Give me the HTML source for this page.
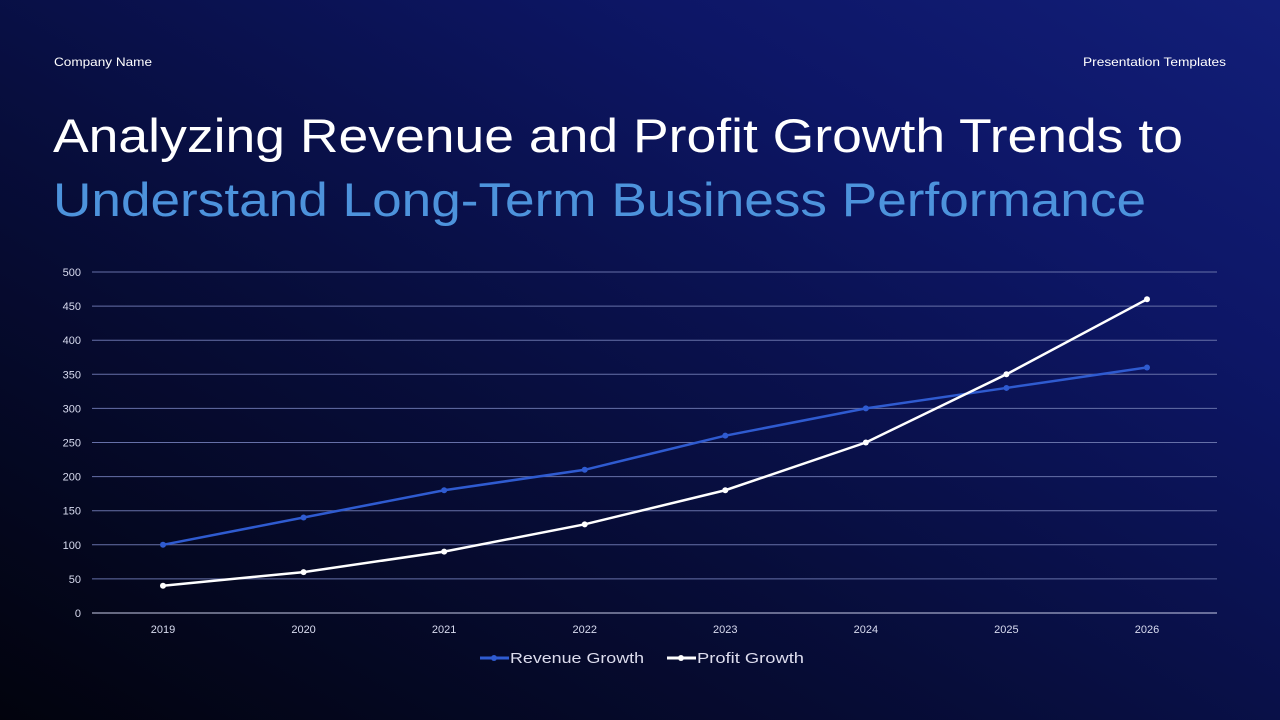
<!DOCTYPE html>
<html><head><meta charset="utf-8"><style>
html,body{margin:0;padding:0;width:1280px;height:720px;overflow:hidden}
body{background:linear-gradient(30deg,#02030d 0%,#070d3a 40%,#0d1666 75%,#121e78 100%);font-family:"Liberation Sans",sans-serif}
svg{position:absolute;left:0;top:0}
</style></head><body>
<svg id="chart" width="1280" height="720">
<text x="54" y="66" fill="#fff" font-size="12" textLength="98" lengthAdjust="spacingAndGlyphs">Company Name</text>
<text x="1083" y="66" fill="#fff" font-size="12" textLength="143" lengthAdjust="spacingAndGlyphs">Presentation Templates</text>
<text x="53" y="152" fill="#fff" font-size="47" textLength="1130" lengthAdjust="spacingAndGlyphs">Analyzing Revenue and Profit Growth Trends to</text>
<text x="53" y="216" fill="#4d93dc" font-size="47" textLength="1093" lengthAdjust="spacingAndGlyphs">Understand Long-Term Business Performance</text>
<g id="grid"></g>
<g id="marks"></g>
<g>
<g>
<line x1="480" y1="658" x2="509" y2="658" stroke="#2f5bd0" stroke-width="3"/><circle cx="494" cy="658" r="3" fill="#2f5bd0"/>
<text x="510" y="663" fill="#dde" font-size="15" textLength="134" lengthAdjust="spacingAndGlyphs">Revenue Growth</text></g>
<g>
<line x1="667" y1="658" x2="696" y2="658" stroke="#fff" stroke-width="3"/><circle cx="681" cy="658" r="3" fill="#fff"/>
<text x="697" y="663" fill="#dde" font-size="15" textLength="107" lengthAdjust="spacingAndGlyphs">Profit Growth</text></g>
</g>
</svg>
<script>
const years=["2019","2020","2021","2022","2023","2024","2025","2026"];
const revenue=[100,140,180,210,260,300,330,360];
const profit=[40,60,90,130,180,250,350,460];
const yTicks=[0,50,100,150,200,250,300,350,400,450,500];
const NS="http://www.w3.org/2000/svg";
const x0=163,dx=(1147-163)/7,y0=613,ys=341/500;
const X=i=>x0+i*dx, Y=v=>y0-v*ys;
const grid=document.getElementById('grid'),marks=document.getElementById('marks');
function mk(t,a,p){const e=document.createElementNS(NS,t);for(const k in a)e.setAttribute(k,a[k]);p.appendChild(e);return e;}
yTicks.forEach(v=>{
 const l=mk('line',{x1:92,x2:1217,y1:Y(v),y2:Y(v),stroke:v===0?'#c8cce8':'#6670a8','stroke-width':1},grid);
 
 
 const t=mk('text',{x:81,y:Y(v)+4,fill:'#d8dbef','font-size':11,'text-anchor':'end'},grid);t.textContent=v;
 
 
});
years.forEach((y,i)=>{
 const t=mk('text',{x:X(i),y:633,fill:'#d8dbef','font-size':11,'text-anchor':'middle'},grid);t.textContent=y;
 
 
});
function series(arr,col,name){
 const p=mk('polyline',{points:arr.map((v,i)=>X(i)+','+Y(v)).join(' '),fill:'none',stroke:col,'stroke-width':2.5},marks);
 
 
 arr.forEach((v,i)=>{const c=mk('circle',{cx:X(i),cy:Y(v),r:3,fill:col},marks);
 
 });
}
series(revenue,'#2f5bd0','revenue');
series(profit,'#ffffff','profit');
</script>
</body></html>
